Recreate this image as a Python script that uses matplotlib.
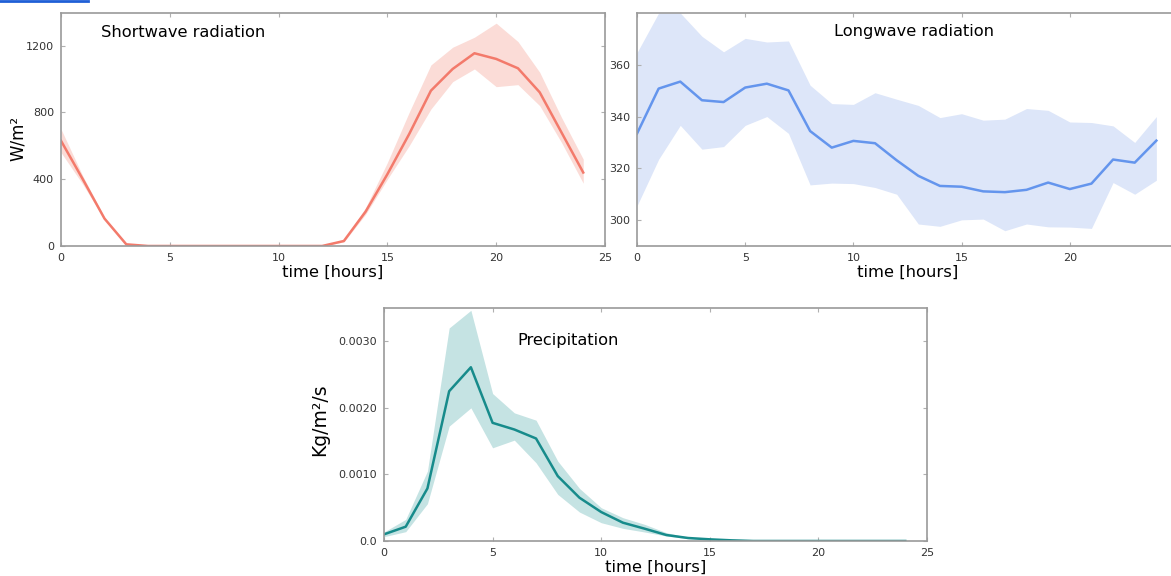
import matplotlib.pyplot as plt
from matplotlib.lines import Line2D

hours = list(range(25))

# Shortwave radiation (W/m2)
sw_mean = [630, 400, 164, 10, 0, 0, 0, 0, 0, 0, 0, 0, 0, 30, 206, 430, 670,
           930, 1060, 1154, 1120, 1064, 920, 680, 440]
sw_upper = [700, 420, 170, 16, 0, 0, 0, 0, 0, 0, 0, 0, 0, 36, 230, 500, 800,
            1084, 1190, 1250, 1334, 1224, 1040, 770, 520]
sw_lower = [560, 370, 158, 4, 0, 0, 0, 0, 0, 0, 0, 0, 0, 24, 190, 400, 600,
            820, 984, 1060, 954, 966, 840, 620, 376]

# Longwave radiation (W/m2)
lw_mean = [333.4, 350.8, 353.5, 346.3, 345.6, 351.2, 352.7, 350.1, 334.4, 328.0,
           330.6, 329.7, 323.1, 317.1, 313.2, 312.9, 311.1, 310.8, 311.7, 314.5,
           312.0, 314.1, 323.4, 322.2, 330.7]
lw_upper = [364.7, 380.0, 380.0, 371.0, 365.0, 370.2, 368.8, 369.2, 352.1, 345.0,
            344.7, 349.2, 346.7, 344.3, 339.6, 341.1, 338.6, 339.0, 343.1, 342.4,
            337.9, 337.7, 336.4, 330.0, 340.0]
lw_lower = [305.5, 323.5, 336.6, 327.4, 328.4, 336.6, 340.0, 333.5, 313.6, 314.3,
            314.1, 312.6, 310.0, 298.5, 297.6, 300.1, 300.4, 295.9, 298.5, 297.4,
            297.3, 296.8, 314.5, 310.0, 315.4]

# Precipitation (Kg/m2/s)
pr_mean = [0.0001, 0.000215, 0.00079, 0.00225, 0.00261, 0.001775, 0.001675,
           0.00154, 0.000975, 0.00065, 0.000435, 0.000275, 0.000185, 0.00009,
           0.000045, 0.000025, 0.00001, 0, 0, 0, 0, 0, 0, 0, 0]
pr_upper = [0.000135, 0.000325, 0.00105, 0.0032, 0.003465, 0.002215, 0.001925,
            0.001815, 0.0012, 0.00079, 0.0005, 0.00035, 0.00025, 0.000125,
            0.000055, 0.000025, 0.00001, 0, 0, 0, 0, 0, 0, 0, 0]
pr_lower = [0.000065, 0.00014, 0.00056, 0.001725, 0.002, 0.0014, 0.001515,
            0.001175, 0.0007, 0.000435, 0.000275, 0.00019, 0.000135, 0.000075,
            0.000035, 0.000015, 0.000005, 0, 0, 0, 0, 0, 0, 0, 0]

fig = plt.figure(figsize=(11.71, 5.76), dpi=100)
W, H = 1171, 576


def add_axes(left, top, right, bottom):
    return fig.add_axes([left / W, 1 - bottom / H, (right - left) / W, (bottom - top) / H])


def style(ax, xlim, ylim, yticks):
    ax.set_xlim(*xlim)
    ax.set_ylim(*ylim)
    ax.set_xticks([0, 5, 10, 15, 20, 25])
    ax.set_yticks(yticks)
    for s in ax.spines.values():
        s.set_color("#9a9a9a")
        s.set_linewidth(1.2)
    ax.tick_params(direction="in", length=3, width=0.8, color="#b0b0b0",
                   top=True, right=True, labelsize=8, labelcolor="#333333", pad=5)
    ax.set_xlabel("time [hours]", fontsize=11.8, labelpad=1)


ax1 = add_axes(61, 13, 605, 246)
ax1.fill_between(hours, sw_lower, sw_upper, color="#fbdcd7", lw=0)
ax1.plot(hours, sw_mean, color="#f37a6b", lw=1.8)
style(ax1, (0, 25), (0, 1395), [0, 400, 800, 1200])
ax1.set_ylabel("W/m²", fontsize=12)
ax1.yaxis.set_label_coords((27 - 61) / 544, 0.46)
ax1.text(0.073, 0.915, "Shortwave radiation", transform=ax1.transAxes, fontsize=11.7,
         va="center")

ax2 = add_axes(637, 13, 1178, 246)
ax2.fill_between(hours, lw_lower, lw_upper, color="#dde6f9", lw=0)
ax2.plot(hours, lw_mean, color="#6495ed", lw=1.8)
style(ax2, (0, 25), (290, 380), [300, 320, 340, 360])
ax2.text(0.365, 0.92, "Longwave radiation", transform=ax2.transAxes, fontsize=11.7,
         va="center")

ax3 = add_axes(384, 308, 927, 541)
ax3.fill_between(hours, pr_lower, pr_upper, color="#c5e3e3", lw=0)
ax3.plot(hours, pr_mean, color="#178b8b", lw=1.8)
style(ax3, (0, 25), (0, 0.0035), [0, 0.001, 0.002, 0.003])
ax3.set_yticklabels(["0.0", "0.0010", "0.0020", "0.0030"])
ax3.set_ylabel("Kg/m²/s", fontsize=13.5)
ax3.yaxis.set_label_coords((329 - 384) / 543, 0.52)
ax3.text(0.245, 0.86, "Precipitation", transform=ax3.transAxes, fontsize=11.7,
         va="center")

# blue underline remnant at the top-left corner
fig.add_artist(Line2D([0, 88 / W], [1 - 1 / H, 1 - 1 / H], color="#1f5fd6", lw=2,
                      transform=fig.transFigure))

fig.savefig("out.png", dpi=100)
